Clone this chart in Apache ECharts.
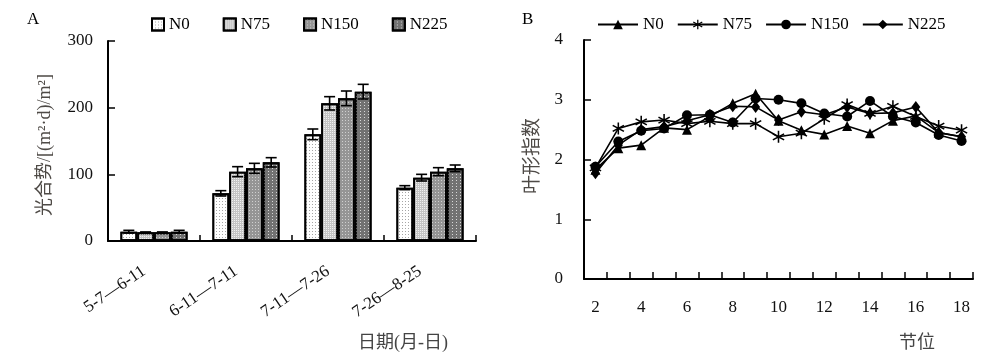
<!DOCTYPE html>
<html><head><meta charset="utf-8">
<script src="https://cdn.jsdelivr.net/npm/echarts@6/dist/echarts.min.js"></script>
<style>html,body{margin:0;padding:0;background:#fff}#c{width:999px;height:364px}</style>
</head><body><div id="c"></div>
<script>
// ---- Panel A data: 光合势 by period ----
const periods = ['5-7—6-11', '6-11—7-11', '7-11—7-26', '7-26—8-25'];
const aN0   = [14, 71.5, 160, 80];
const aN75  = [13, 104, 206.5, 95];
const aN150 = [13, 109, 214, 104];
const aN225 = [14, 118, 224, 109];
const eN0   = [2, 4, 8, 3];
const eN75  = [0.6, 7.5, 10, 5];
const eN150 = [0.6, 7.5, 11, 6];
const eN225 = [2, 7, 11, 5];
const aTicks = [0, 100, 200, 300];

// ---- Panel B data: 叶形指数 by node ----
const nodes = ['2','3','4','5','6','7','8','9','10','11','12','13','14','15','16','17','18'];
const bN0   = [1.83, 2.19, 2.24, 2.53, 2.50, 2.72, 2.94, 3.10, 2.65, 2.49, 2.42, 2.56, 2.44, 2.65, 2.73, 2.45, 2.38];
const bN75  = [1.86, 2.52, 2.63, 2.66, 2.60, 2.64, 2.60, 2.60, 2.38, 2.44, 2.68, 2.92, 2.77, 2.89, 2.72, 2.56, 2.49];
const bN150 = [1.88, 2.30, 2.48, 2.52, 2.74, 2.75, 2.62, 3.02, 3.00, 2.94, 2.77, 2.72, 2.98, 2.72, 2.62, 2.41, 2.31];
const bN225 = [1.77, 2.24, 2.50, 2.55, 2.65, 2.75, 2.89, 2.88, 2.66, 2.80, 2.75, 2.88, 2.77, 2.78, 2.88, 2.45, 2.38];

const seriesNames = ['N0', 'N75', 'N150', 'N225'];
const serif = "'Liberation Serif', 'Times New Roman', 'Noto Sans CJK SC', serif";

const asterisk = 'path://M8.8,0L11.2,0L11.2,20L8.8,20Z M0.74,6.04L1.94,3.96L19.26,13.96L18.06,16.04Z M0.74,13.96L18.06,3.96L19.26,6.04L1.94,16.04Z';

const CAT_GAP = 0.27;
const barStyles = [
  {color: '#ffffff', decal: {symbol: 'rect', symbolSize: 1, dashArrayX: [1, 2], dashArrayY: [1, 2], color: 'rgba(0,0,0,0.35)'}},
  {color: '#c4c4c4', decal: {symbol: 'rect', symbolSize: 1, dashArrayX: [1, 1], dashArrayY: [1, 1], color: '#f0f0f0'}},
  {color: '#959595', decal: {symbol: 'rect', symbolSize: 1, dashArrayX: [1, 2], dashArrayY: [1, 2], color: '#d0d0d0'}},
  {color: '#727272', decal: {symbol: 'rect', symbolSize: 1, dashArrayX: [1, 3], dashArrayY: [1, 2], color: '#d8d8d8'}}
];

const aVals = [aN0, aN75, aN150, aN225];
const aErrs = [eN0, eN75, eN150, eN225];
const bVals = [bN0, bN75, bN150, bN225];
const bSymbols = ['triangle', asterisk, 'circle', 'diamond'];
const bSizes = [10, 12, 10, [9, 12]];

function errRender(k) {
  return function (params, api) {
    const cat = api.value(0), v = api.value(1), e = api.value(2);
    const band = api.size([1, 0])[0];
    const barW = band * (1 - CAT_GAP) / 4;
    const c = api.coord([cat, v]);
    const x = c[0] + (k - 1.5) * barW;
    const yT = api.coord([cat, v + e])[1];
    const yB = api.coord([cat, v - e])[1];
    const cap = 5.5;
    const st = {stroke: '#000', lineWidth: 1.6};
    return {type: 'group', children: [
      {type: 'line', shape: {x1: x, y1: yT, x2: x, y2: yB}, style: st},
      {type: 'line', shape: {x1: x - cap, y1: yT, x2: x + cap, y2: yT}, style: st},
      {type: 'line', shape: {x1: x - cap, y1: yB, x2: x + cap, y2: yB}, style: st}
    ]};
  };
}

const series = [];
seriesNames.forEach((n, k) => {
  series.push({
    name: n, type: 'bar', xAxisIndex: 0, yAxisIndex: 0,
    data: aVals[k], barGap: '0%', barCategoryGap: (CAT_GAP * 100) + '%',
    itemStyle: Object.assign({borderColor: '#000', borderWidth: 1.8}, barStyles[k]),
    emphasis: {disabled: true}
  });
});
seriesNames.forEach((n, k) => {
  series.push({
    name: 'err' + n, type: 'custom', xAxisIndex: 0, yAxisIndex: 0, z: 5,
    renderItem: errRender(k),
    encode: {x: 0, y: 1},
    data: aVals[k].map((v, i) => [i, v, aErrs[k][i]])
  });
});
seriesNames.forEach((n, k) => {
  series.push({
    name: 'B-' + n, type: 'line', xAxisIndex: 1, yAxisIndex: 1,
    data: bVals[k], symbol: bSymbols[k], symbolSize: bSizes[k],
    itemStyle: {color: '#000', borderWidth: 0},
    lineStyle: {color: '#000', width: 1.6},
    emphasis: {disabled: true}
  });
});

const axisLine = {show: true, lineStyle: {color: '#000', width: 2}};
const labelStyle = {color: '#111', fontFamily: serif, fontSize: 17};

const option = {
  animation: false,
  backgroundColor: '#fff',
  grid: [
    {left: 108, top: 41, width: 368, height: 200},
    {left: 584, top: 40, width: 389, height: 239}
  ],
  legend: [
    {
      data: seriesNames, left: 146, top: 11, icon: 'rect', itemWidth: 12, itemHeight: 12, itemGap: 33,
      itemStyle: {borderWidth: 2},
      textStyle: {fontFamily: serif, fontSize: 17, color: '#000'},
      selectedMode: false
    },
    {
      data: seriesNames.map(n => 'B-' + n), left: 592, top: 11, itemWidth: 40, itemHeight: 12, itemGap: 13,
      formatter: name => name.replace('B-', ''),
      textStyle: {fontFamily: serif, fontSize: 17, color: '#000'},
      selectedMode: false
    }
  ],
  xAxis: [
    {
      type: 'category', gridIndex: 0, data: periods,
      axisLine: axisLine,
      axisTick: {show: true, inside: true, length: 6, lineStyle: {color: '#000', width: 1.5}},
      axisLabel: Object.assign({rotate: 34, interval: 0, margin: 22, padding: [0, 12, 0, 0]}, labelStyle),
      splitLine: {show: false}
    },
    {
      type: 'category', gridIndex: 1, data: nodes, boundaryGap: true,
      axisLine: axisLine,
      axisTick: {show: true, inside: true, length: 7, interval: 0, lineStyle: {color: '#000', width: 1.5}},
      axisLabel: Object.assign({interval: 1, margin: 20}, labelStyle),
      splitLine: {show: false}
    }
  ],
  yAxis: [
    {
      type: 'value', gridIndex: 0, min: aTicks[0], max: aTicks[aTicks.length - 1], interval: 100,
      axisLine: axisLine,
      axisTick: {show: true, inside: true, length: 7, lineStyle: {color: '#000', width: 1.5}},
      axisLabel: Object.assign({margin: 15}, labelStyle),
      splitLine: {show: false}
    },
    {
      type: 'value', gridIndex: 1, min: 0, max: 4, interval: 1,
      axisLine: axisLine,
      axisTick: {show: true, inside: true, length: 7, lineStyle: {color: '#000', width: 1.5}},
      axisLabel: Object.assign({margin: 21}, labelStyle),
      splitLine: {show: false}
    }
  ],
  graphic: [
    {type: 'text', left: 27, top: 11, style: {text: 'A', font: '17px ' + serif, fill: '#000'}},
    {type: 'text', left: 522, top: 11, style: {text: 'B', font: '17px ' + serif, fill: '#000'}},
    {type: 'text', x: 45, y: 145, rotation: Math.PI / 2,
      style: {text: '光合势/[(m²·d)/m²]', font: '18px ' + serif, fill: '#4e4a46', align: 'center', verticalAlign: 'middle'}},
    {type: 'text', x: 403, y: 343,
      style: {text: '日期(月-日)', font: '18px ' + serif, fill: '#444', align: 'center', verticalAlign: 'middle'}},
    {type: 'text', x: 533, y: 156, rotation: Math.PI / 2,
      style: {text: '叶形指数', font: '19px ' + serif, fill: '#4e4a46', align: 'center', verticalAlign: 'middle'}},
    {type: 'text', x: 917, y: 343,
      style: {text: '节位', font: '18px ' + serif, fill: '#444', align: 'center', verticalAlign: 'middle'}}
  ],
  series: series
};

const chart = echarts.init(document.getElementById('c'), null, {renderer: 'canvas'});
chart.setOption(option);
</script></body></html>
